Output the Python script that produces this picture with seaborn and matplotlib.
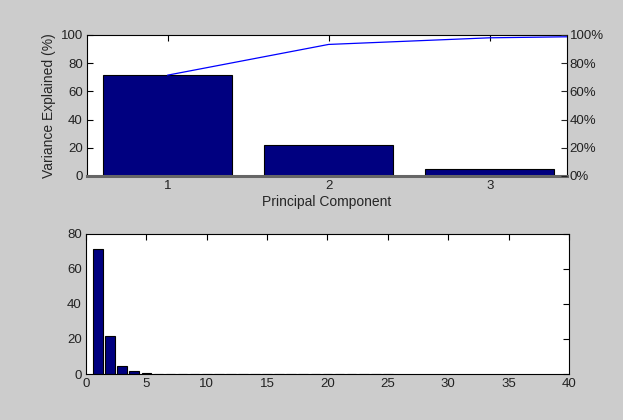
import numpy as np
import pandas as pd
import matplotlib
matplotlib.use("Agg")
import matplotlib.pyplot as plt
import seaborn as sns
from matplotlib.ticker import FuncFormatter

components = list(range(1, 26))
variance = [71.5, 21.8, 4.7, 1.5, 0.3, 0.2, 0.2, 0.2, 0.2, 0.15, 0.15, 0.15,
            0.15, 0.15, 0.15, 0.15, 0.15, 0.15, 0.15, 0.15, 0.15, 0.15, 0.15, 0.15, 0.15]
top_components = [1, 2, 3]
top_yticks = [0, 20, 40, 60, 80, 100]
pct_ticks = [0, 20, 40, 60, 80, 100]
bottom_yticks = [0, 20, 40, 60, 80]
bottom_xticks = [0, 5, 10, 15, 20, 25, 30, 35, 40]

sns.set_style("white")
plt.rcParams['font.family'] = ['Liberation Sans', 'DejaVu Sans']

BG = "#cccccc"
NAVY = "#000080"
fs = 9.5
lfs = 10

fig = plt.figure(figsize=(6.23, 4.2), dpi=100, facecolor=BG)

# ---------- top: pareto ----------
ax1 = fig.add_axes([0.1396, 0.581, 0.7705, 0.3357])
df_top = pd.DataFrame({"pc": top_components, "var": variance[:3]})
sns.barplot(data=df_top, x="pc", y="var", native_scale=True, width=0.8,
            color=NAVY, saturation=1, edgecolor="black", linewidth=0.8, ax=ax1)
ax1.set_xlim(0.5, 3.48)
ax1.set_ylim(0, 100)
ax1.set_xticks(top_components)
ax1.set_yticks(top_yticks)
ax1.set_xlabel("Principal Component", fontsize=lfs, labelpad=2)
ax1.set_ylabel("Variance Explained (%)", fontsize=lfs, labelpad=3)
ax1.tick_params(direction="in", length=4, width=0.8, labelsize=fs,
                top=True, right=True, colors="black", pad=3)
for s in ["top", "left", "right"]:
    ax1.spines[s].set_color("black")
    ax1.spines[s].set_linewidth(0.8)
ax1.spines["bottom"].set_color("#666666")
ax1.spines["bottom"].set_linewidth(2.2)

cum = np.minimum(np.cumsum(variance), 100)
ax2 = ax1.twinx()
sns.lineplot(x=components, y=cum, color="blue", linewidth=0.9, ax=ax2)
ax2.set_ylim(0, 100)
ax2.set_yticks(pct_ticks)
ax2.yaxis.set_major_formatter(FuncFormatter(lambda v, p: f"{int(v)}%"))
ax2.tick_params(axis="y", direction="in", length=4, width=0.8, labelsize=fs, pad=2)
ax2.set_xlim(0.5, 3.48)
for s in ax2.spines.values():
    s.set_visible(False)
ax2.set_ylabel("")

# ---------- bottom: all components ----------
ax3 = fig.add_axes([0.138, 0.1095, 0.7753, 0.3335])
df_all = pd.DataFrame({"pc": components, "var": variance})
sns.barplot(data=df_all, x="pc", y="var", native_scale=True, width=0.8,
            color=NAVY, saturation=1, edgecolor="black", linewidth=0.8, ax=ax3)
ax3.set_xlim(0, 40)
ax3.set_ylim(0, 80)
ax3.set_xticks(bottom_xticks)
ax3.set_yticks(bottom_yticks)
ax3.set_xlabel("")
ax3.set_ylabel("")
ax3.tick_params(direction="in", length=4, width=0.8, labelsize=fs,
                top=True, right=True, colors="black", pad=3)
for s in ax3.spines.values():
    s.set_color("black")
    s.set_linewidth(0.8)

for ax in (ax1, ax3):
    ax.set_facecolor("white")
    for lab in ax.get_xticklabels() + ax.get_yticklabels():
        lab.set_color("#222222")
for lab in ax2.get_yticklabels():
    lab.set_color("#222222")

fig.savefig("out.png", dpi=100, facecolor=BG)
